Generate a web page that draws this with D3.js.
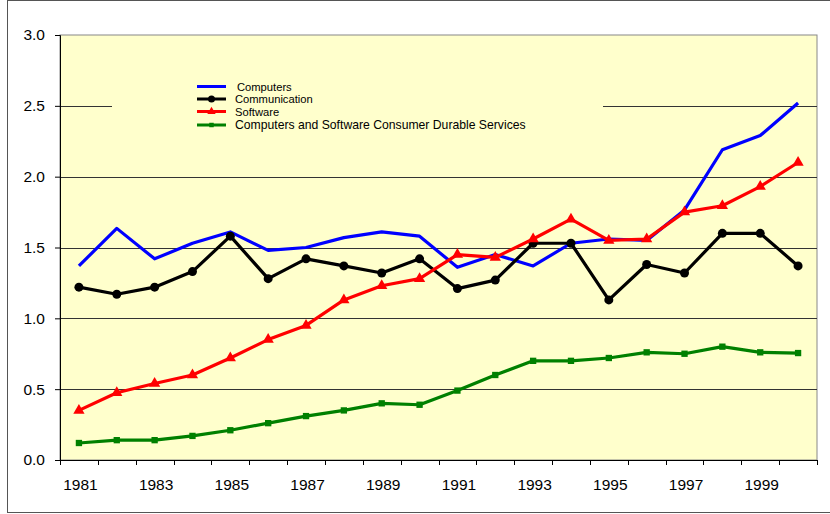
<!DOCTYPE html>
<html>
<head>
<meta charset="utf-8">
<script src="https://cdn.jsdelivr.net/npm/d3@7"></script>
<style>
  html, body { margin: 0; padding: 0; background: #fff; }
  svg { display: block; }
  text { font-family: Arial, "Liberation Sans", sans-serif; fill: #000; }
</style>
</head>
<body>
<svg id="chart" width="830" height="514"></svg>
<script>
const years = [1981,1982,1983,1984,1985,1986,1987,1988,1989,1990,1991,1992,1993,1994,1995,1996,1997,1998,1999,2000];
const computers = [1.37,1.635,1.42,1.53,1.61,1.48,1.50,1.57,1.61,1.58,1.36,1.45,1.37,1.53,1.56,1.55,1.765,2.19,2.29,2.52];
const communication = [1.22,1.17,1.22,1.33,1.58,1.28,1.42,1.37,1.32,1.42,1.21,1.27,1.53,1.53,1.13,1.38,1.32,1.60,1.60,1.37];
const software = [0.35,0.475,0.54,0.60,0.72,0.85,0.95,1.13,1.23,1.28,1.45,1.43,1.56,1.70,1.55,1.56,1.75,1.795,1.93,2.10];
const durable = [0.12,0.14,0.14,0.17,0.21,0.26,0.31,0.35,0.40,0.39,0.49,0.60,0.70,0.70,0.72,0.76,0.75,0.80,0.76,0.755];
const yTicks = [0,0.5,1.0,1.5,2.0,2.5,3.0];
const xLabels = [1981,1983,1985,1987,1989,1991,1993,1995,1997,1999];
const seriesNames = ["Computers","Communication","Software","Computers and Software Consumer Durable Services"];

const series = [
  {name: seriesNames[0], values: computers, color: "#0000ff", marker: "none", fs: 11.2},
  {name: seriesNames[1], values: communication, color: "#000000", marker: "circle", fs: 11.2},
  {name: seriesNames[2], values: software, color: "#ff0000", marker: "triangle", fs: 11.2},
  {name: seriesNames[3], values: durable, color: "#008000", marker: "square", fs: 12.2}
];
const legendRows = [86.5, 99, 111.5, 125];

const svg = d3.select("#chart");
const L = 60, R = 817, T = 35, B = 460;

// outer frame
svg.append("rect").attr("x", 7.5).attr("y", 0.5).attr("width", 830).attr("height", 512)
  .attr("fill", "#fff").attr("stroke", "#555").attr("stroke-width", 1);

const x = d3.scaleBand().domain(years).range([L, R]).padding(0);
const y = d3.scaleLinear().domain([0, 3]).range([B, T]);
const cx = d => x(d) + x.bandwidth() / 2;

// plot area
svg.append("rect").attr("x", L).attr("y", T).attr("width", R - L).attr("height", B - T)
  .attr("fill", "#ffffcc").attr("stroke", "#888").attr("stroke-width", 1);

// gridlines
svg.append("g").selectAll("line").data(yTicks.filter(v => v > 0 && v < 3)).join("line")
  .attr("x1", L).attr("x2", R)
  .attr("y1", d => Math.round(y(d)) + 0.5).attr("y2", d => Math.round(y(d)) + 0.5)
  .attr("stroke", "#333").attr("stroke-width", 1);

// legend background (hides gridline)
svg.append("rect").attr("x", 112).attr("y", 76).attr("width", 491).attr("height", 58)
  .attr("fill", "#ffffcc");

// y axis
const yAxis = svg.append("g").attr("transform", `translate(${L},0)`)
  .call(d3.axisLeft(y).tickValues(yTicks).tickFormat(d3.format(".1f")).tickSize(5).tickPadding(10));
yAxis.select(".domain").attr("stroke", "#000");
yAxis.selectAll(".tick line").attr("stroke", "#000");
yAxis.selectAll(".tick text").attr("font-size", "15.5px").attr("font-family", "Arial, 'Liberation Sans', sans-serif").attr("fill", "#000");

// x axis
const xg = svg.append("g");
xg.append("line").attr("x1", L).attr("x2", R).attr("y1", B + 0.5).attr("y2", B + 0.5).attr("stroke", "#000");
const bounds = years.map(d => x(d)).concat([R]);
xg.selectAll("line.tick").data(bounds).join("line").attr("class", "tick")
  .attr("x1", d => Math.round(d) + 0.5).attr("x2", d => Math.round(d) + 0.5)
  .attr("y1", B).attr("y2", B + 5).attr("stroke", "#000");
xg.selectAll("text").data(xLabels).join("text")
  .attr("x", d => cx(d) + 1.5).attr("y", 490).attr("text-anchor", "middle")
  .attr("font-size", "15.5px").text(d => d);

// lines
const line = d3.line().x((d, i) => cx(years[i])).y(d => y(d));
const tri = d3.symbol().type(d3.symbolTriangle).size(55);
const sq = d3.symbol().type(d3.symbolSquare).size(40);

series.forEach(s => {
  const g = svg.append("g");
  g.append("path").datum(s.values).attr("d", line).attr("fill", "none")
    .attr("stroke", s.color).attr("stroke-width", 3.2).attr("stroke-linejoin", "round");
  if (s.marker === "circle") {
    g.selectAll("circle").data(s.values).join("circle")
      .attr("cx", (d, i) => cx(years[i])).attr("cy", d => y(d)).attr("r", 4.5).attr("fill", s.color);
  } else if (s.marker === "triangle") {
    g.selectAll("path.m").data(s.values).join("path").attr("class", "m")
      .attr("d", tri).attr("transform", (d, i) => `translate(${cx(years[i])},${y(d)})`).attr("fill", s.color);
  } else if (s.marker === "square") {
    g.selectAll("path.m").data(s.values).join("path").attr("class", "m")
      .attr("d", sq).attr("transform", (d, i) => `translate(${cx(years[i])},${y(d)})`).attr("fill", s.color);
  }
});

// legend
const lg = svg.append("g");
series.forEach((s, i) => {
  const ly = legendRows[i];
  lg.append("line").attr("x1", 197).attr("x2", 226).attr("y1", ly).attr("y2", ly)
    .attr("stroke", s.color).attr("stroke-width", 3);
  if (s.marker === "circle") {
    lg.append("circle").attr("cx", 211.5).attr("cy", ly).attr("r", 3.5).attr("fill", s.color);
  } else if (s.marker === "triangle") {
    lg.append("path").attr("d", d3.symbol().type(d3.symbolTriangle).size(30))
      .attr("transform", `translate(211.5,${ly})`).attr("fill", s.color);
  } else if (s.marker === "square") {
    lg.append("path").attr("d", d3.symbol().type(d3.symbolSquare).size(20))
      .attr("transform", `translate(211.5,${ly})`).attr("fill", s.color);
  }
  lg.append("text").attr("x", i === 0 ? 237 : 235).attr("y", ly + 4)
    .attr("font-size", s.fs + "px").text(s.name);
});
</script>
</body>
</html>
